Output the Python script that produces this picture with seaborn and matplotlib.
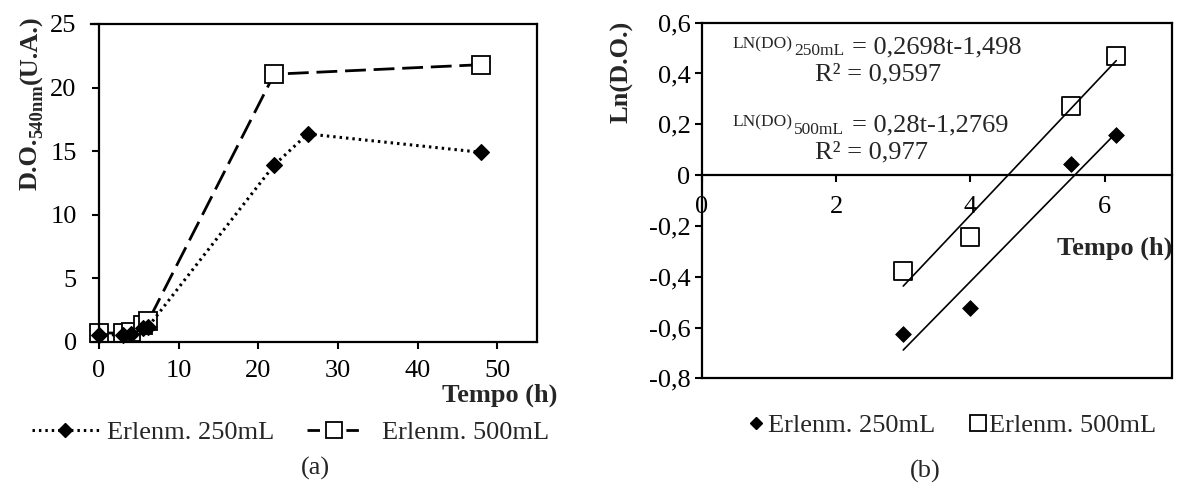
import numpy as np
import matplotlib
matplotlib.use("Agg")
import matplotlib.pyplot as plt
import seaborn as sns
from matplotlib.ticker import FuncFormatter
from matplotlib.lines import Line2D
from matplotlib.transforms import IdentityTransform

# Growth curves: optical density at 540 nm versus time (h)
tempo_250 = [0, 3, 4, 5.5, 6.17, 22, 26.2, 48]
do_250 = [0.55, 0.535, 0.59, 1.05, 1.17, 13.9, 16.35, 14.9]
tempo_500 = [0, 3, 4, 5.5, 6.17, 22, 48]
do_500 = [0.68, 0.685, 0.78, 1.32, 1.60, 21.05, 21.8]

# Exponential phase: Ln(D.O.) versus time (h)
tempo_exp = [3, 4, 5.5, 6.17]
ln_250 = [-0.625, -0.525, 0.045, 0.157]
ln_500 = [-0.378, -0.245, 0.274, 0.468]

# Linear fits: slope, intercept, R²
fit_250 = (0.2698, -1.498, 0.9597)
fit_500 = (0.28, -1.2769, 0.977)

label_250 = "Erlenm. 250mL"
label_500 = "Erlenm. 500mL"

sns.set_theme(style="white")
plt.rcParams["font.family"] = ["Liberation Serif", "DejaVu Serif"]

FS = 19
SMALL = 12.5
W, H = 1177, 488
fig = plt.figure(figsize=(W / 100, H / 100), dpi=100)
fig.patch.set_facecolor("white")
renderer = fig.canvas.get_renderer()


def fx(px):
    return px / W


def fy(py):
    return 1 - py / H


def box(x0, y0, x1, y1):
    return [fx(x0), fy(y1), fx(x1) - fx(x0), fy(y0) - fy(y1)]


def comma(v, pos):
    if abs(v) < 1e-9:
        return "0"
    return f"{v:.1f}".replace(".", ",")


def vertical_label(pieces, x_base, y_bottom):
    """Bold label reading upwards, built from (text, size, baseline shift px) pieces."""
    y = H - y_bottom
    for s, size, shift in pieces:
        t = fig.text(0, 0, s, rotation=90, rotation_mode="anchor", ha="left",
                     va="baseline", fontsize=size, fontweight="bold",
                     transform=IdentityTransform())
        t.set_position((x_base + shift, y))
        y = t.get_window_extent(renderer).y1


dotted = (0, (0.8, 1.3))
dashed = (0, (7.5, 2.8))

# ---------------- (a) growth curves ----------------
axA = fig.add_axes(box(91, 24, 537, 341.7))
sns.lineplot(x=tempo_500, y=do_500, ax=axA, color="black", linestyle=dashed, lw=2.0,
             marker="s", markersize=13, markerfacecolor="white", markeredgecolor="black",
             markeredgewidth=1.3, errorbar=None, legend=False, clip_on=False)
sns.lineplot(x=tempo_250, y=do_250, ax=axA, color="black", linestyle=dotted, lw=2.2,
             marker="D", markersize=8, markerfacecolor="black", markeredgecolor="black",
             markeredgewidth=0.8, errorbar=None, legend=False, clip_on=False)

axA.set_xlim(-1, 55)
axA.set_ylim(0, 25)
axA.set_xticks(range(0, 51, 10))
axA.set_yticks(range(0, 26, 5))
axA.spines["left"].set_position(("data", 0))
for s in axA.spines.values():
    s.set_linewidth(1.6)
    s.set_color("black")
axA.tick_params(axis="both", direction="out", length=5, width=1.5, colors="black",
                labelsize=FS, bottom=True, left=True)
axA.tick_params(axis="y", pad=11)
axA.tick_params(axis="x", pad=8.5)
axA.set_xlabel("")
axA.set_ylabel("")

vertical_label([("D.O.", FS, 0), ("540nm", FS * 0.7, 5), ("(U.A.)", FS, 0)], 37, 190)
fig.text(fx(557), fy(402), "Tempo (h)", ha="right", va="baseline",
         fontsize=FS, fontweight="bold")

h250a = Line2D([], [], color="black", linestyle=dotted, lw=2.2, marker="D", markersize=7,
               markerfacecolor="black", markeredgecolor="black")
h500a = Line2D([], [], color="black", linestyle=(0, (4.5, 2.5)), lw=2.0, marker="s",
               markersize=12, markerfacecolor="white", markeredgecolor="black",
               markeredgewidth=1.3)
fig.legend([h250a], [label_250], loc="center left", bbox_to_anchor=(fx(31.5), fy(432)),
           frameon=False, fontsize=FS, handlelength=2.56, handletextpad=0.3,
           borderpad=0, borderaxespad=0, numpoints=1)
fig.legend([h500a], [label_500], loc="center left", bbox_to_anchor=(fx(306.7), fy(432)),
           frameon=False, fontsize=FS, handlelength=2.06, handletextpad=0.78,
           borderpad=0, borderaxespad=0, numpoints=1)
fig.text(fx(315), fy(468), "(a)", ha="center", va="center", fontsize=FS)

# ---------------- (b) exponential phase ----------------
axB = fig.add_axes(box(701.7, 22.7, 1172, 378.3))
sns.scatterplot(x=tempo_exp, y=ln_250, ax=axB, marker="D", s=64, color="black",
                edgecolor="black", linewidth=0.6, legend=False, zorder=3)
sns.scatterplot(x=tempo_exp, y=ln_500, ax=axB, marker="s", s=169, color="white",
                edgecolor="black", linewidth=1.3, legend=False, zorder=3)

t_fit = np.array([tempo_exp[0], tempo_exp[-1]])
for slope, intercept, _ in (fit_250, fit_500):
    sns.lineplot(x=t_fit, y=slope * t_fit + intercept, ax=axB, color="black", lw=1.2,
                 errorbar=None, legend=False, zorder=4)

axB.set_xlim(0, 7)
axB.set_ylim(-0.8, 0.6)
axB.set_xticks([0, 2, 4, 6])
axB.set_yticks(np.round(np.arange(-0.8, 0.61, 0.2), 1))
axB.yaxis.set_major_formatter(FuncFormatter(comma))
axB.spines["bottom"].set_position(("data", 0))
for s in axB.spines.values():
    s.set_linewidth(1.6)
    s.set_color("black")
axB.plot([0, 1], [0, 0], transform=axB.transAxes, color="black", lw=1.6, clip_on=False)
axB.tick_params(axis="both", direction="out", length=5, width=1.5, colors="black",
                labelsize=FS, bottom=True, left=True)
axB.tick_params(axis="y", pad=3)
axB.tick_params(axis="x", pad=10)
axB.set_xlabel("")
axB.set_ylabel("")

fig.text(fx(622), fy(72), "Ln(D.O.)", rotation=90, ha="center", va="center",
         fontsize=FS, fontweight="bold")
fig.text(fx(1172), fy(255), "Tempo (h)", ha="right", va="baseline",
         fontsize=FS, fontweight="bold")

# fitted equations
eqs = [("250mL", fit_250, 48.3), ("500mL", fit_500, 126.5)]
for vol, (slope, intercept, r2), base in eqs:
    fig.text(fx(732), fy(base), "LN(DO)", ha="left", va="baseline", fontsize=SMALL)
    fig.text(fx(794), fy(base + 7), vol, ha="left", va="baseline", fontsize=SMALL)
    eq = f"= {slope:g}t{intercept:g}".replace(".", ",")
    fig.text(fx(852), fy(base + 5), eq, ha="left", va="baseline", fontsize=FS)
    fig.text(fx(815), fy(base + 32), f"R² = {r2:g}".replace(".", ","), ha="left",
             va="baseline", fontsize=FS)

h250b = Line2D([], [], color="black", linestyle="", marker="D", markersize=6.5)
h500b = Line2D([], [], color="black", linestyle="", marker="s", markersize=12,
               markerfacecolor="white", markeredgecolor="black", markeredgewidth=1.3)
axB.legend([h250b, h500b], [label_250, label_500], loc="center left",
           bbox_to_anchor=(fx(747.5), fy(425)), bbox_transform=fig.transFigure,
           ncol=2, frameon=False, fontsize=FS, handlelength=0.68, handletextpad=0.11,
           columnspacing=1.25, borderpad=0, borderaxespad=0, numpoints=1)
fig.text(fx(925), fy(471), "(b)", ha="center", va="center", fontsize=FS)

fig.savefig("out.png", dpi=100, facecolor="white")
